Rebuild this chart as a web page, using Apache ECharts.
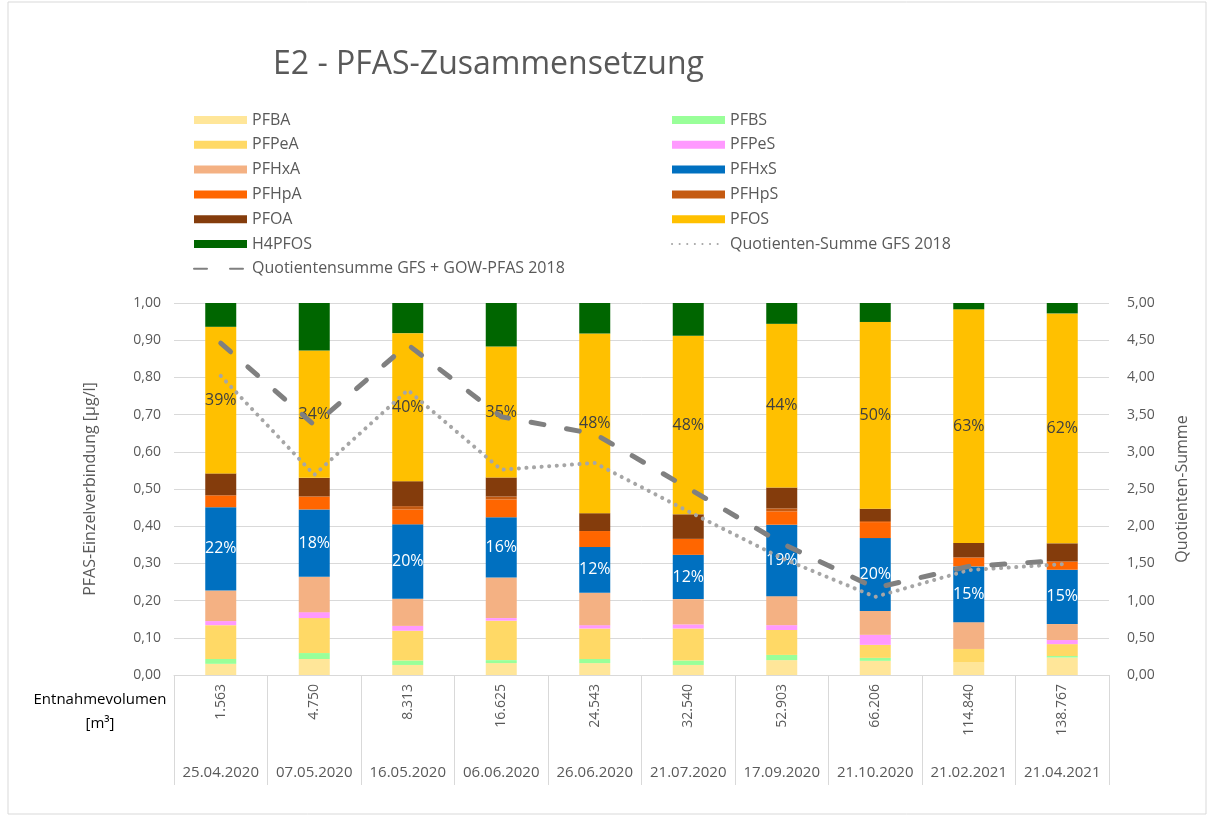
<!DOCTYPE html>
<html>
<head>
<meta charset="utf-8">
<script src="https://cdn.jsdelivr.net/npm/echarts@6/dist/echarts.min.js"></script>
<style>
html,body{margin:0;padding:0;background:#fff;}
#chart{width:1210px;height:821px;}
</style>
</head>
<body>
<div id="chart"></div>
<script>
var volumes = ['1.563','4.750','8.313','16.625','24.543','32.540','52.903','66.206','114.840','138.767'];
var dates = ['25.04.2020','07.05.2020','16.05.2020','06.06.2020','26.06.2020','21.07.2020','17.09.2020','21.10.2020','21.02.2021','21.04.2021'];

// Einzelverbindungen [µg/l], Reihenfolge von unten nach oben
var PFBA   = [0.030,0.043,0.027,0.032,0.032,0.027,0.040,0.038,0.035,0.047];
var PFBS   = [0.013,0.016,0.012,0.008,0.011,0.012,0.014,0.008,0.000,0.004];
var PFPeA  = [0.091,0.094,0.080,0.106,0.082,0.086,0.067,0.035,0.035,0.032];
var PFPeS  = [0.011,0.016,0.013,0.007,0.009,0.011,0.013,0.027,0.000,0.011];
var PFHxA  = [0.082,0.095,0.073,0.109,0.087,0.068,0.078,0.064,0.072,0.043];
var PFHxS  = [0.224,0.181,0.200,0.162,0.123,0.119,0.192,0.196,0.150,0.146];
var PFHpA  = [0.032,0.035,0.040,0.048,0.043,0.043,0.036,0.043,0.024,0.022];
var PFHpS  = [0.000,0.000,0.009,0.008,0.000,0.000,0.008,0.003,0.000,0.000];
var PFOA   = [0.059,0.050,0.067,0.051,0.048,0.066,0.056,0.033,0.039,0.049];
var PFOS   = [0.394,0.342,0.398,0.352,0.483,0.480,0.440,0.502,0.628,0.618];
var H4PFOS = [0.064,0.128,0.082,0.117,0.082,0.088,0.056,0.051,0.017,0.028];

// Quotientensummen
var quotGFS    = [4.02,2.69,3.83,2.76,2.85,2.20,1.57,1.05,1.41,1.49];
var quotGFSGOW = [4.46,3.36,4.44,3.47,3.24,2.51,1.77,1.17,1.46,1.54];

var stoffe = [
	['PFBA',PFBA,'#FFE699'],
	['PFBS',PFBS,'#99FF99'],
	['PFPeA',PFPeA,'#FFD966'],
	['PFPeS',PFPeS,'#FF99FF'],
	['PFHxA',PFHxA,'#F4B183'],
	['PFHxS',PFHxS,'#0070C0'],
	['PFHpA',PFHpA,'#FF6600'],
	['PFHpS',PFHpS,'#C55A11'],
	['PFOA',PFOA,'#843C0C'],
	['PFOS',PFOS,'#FFC000'],
	['H4PFOS',H4PFOS,'#006600']
];

var summe = [];
for(var i=0;i<volumes.length;i++){
	var s = 0;
	for(var k=0;k<stoffe.length;k++){ s += stoffe[k][1][i]; }
	summe.push(s);
}

var font = '"Open Sans", "Noto Sans", sans-serif';
var grau = '#595959';

function komma(v){ return v.toFixed(2).replace('.',','); }

var series = [];
for(var k=0;k<stoffe.length;k++){
	var name = stoffe[k][0];
	var ser = {
		name:name,
		type:'bar',
		stack:'pfas',
		barWidth:31,
		xAxisIndex:0,
		yAxisIndex:0,
		itemStyle:{color:stoffe[k][2]},
		data:stoffe[k][1]
	};
	if(name == 'PFOS' || name == 'PFHxS'){
		ser.label = {
			show:true,
			position:'inside',
			fontFamily:font,
			fontSize:16,
			color:name == 'PFOS' ? '#404040' : '#ffffff',
			formatter:function(p){
				return Math.round(p.value / summe[p.dataIndex] * 100) + '%';
			}
		};
	}
	series.push(ser);
}
series.push({
	name:'Quotienten-Summe GFS 2018',
	type:'line',
	yAxisIndex:1,
	symbol:'none',
	z:5,
	lineStyle:{color:'#A6A6A6',width:4,type:[0.1,7.5],cap:'round'},
	itemStyle:{color:'#A6A6A6'},
	data:quotGFS
});
series.push({
	name:'Quotientensumme GFS + GOW-PFAS 2018',
	type:'line',
	yAxisIndex:1,
	symbol:'none',
	z:6,
	lineStyle:{color:'#808080',width:5,type:[13,23],cap:'round'},
	itemStyle:{color:'#808080'},
	data:quotGFSGOW
});

function legende(left,namen){
	var items = [];
	for(var i=0;i<namen.length;i++){
		if(namen[i].indexOf('Quotient') == 0){
			items.push({name:namen[i],itemStyle:{opacity:0}});
		}else{
			items.push({name:namen[i],icon:'rect'});
		}
	}
	return {
		orient:'vertical',
		left:left,
		top:107,
		itemWidth:53,
		itemHeight:8,
		itemGap:8.8,
		textStyle:{fontFamily:font,fontSize:16,color:grau,lineHeight:14.5},
		data:items
	};
}

var myChart = echarts.init(document.getElementById('chart'));
var option = {
	backgroundColor:'#fff',
	animation:false,
	title:{
		text:'E2 - PFAS-Zusammensetzung',
		left:268,
		top:44,
		textStyle:{fontFamily:font,fontSize:32,fontWeight:'normal',color:grau}
	},
	legend:[
		legende(188,['PFBA','PFPeA','PFHxA','PFHpA','PFOA','H4PFOS','Quotientensumme GFS + GOW-PFAS 2018']),
		legende(666,['PFBS','PFPeS','PFHxS','PFHpS','PFOS','Quotienten-Summe GFS 2018'])
	],
	grid:{left:174,right:101,top:303,bottom:146},
	xAxis:[
		{
			type:'category',
			data:volumes,
			axisLine:{lineStyle:{color:'#D9D9D9'}},
			axisTick:{show:true,length:110,lineStyle:{color:'#D9D9D9'}},
			axisLabel:{rotate:90,margin:9,fontFamily:font,fontSize:14,color:grau,interval:0}
		},
		{
			type:'category',
			position:'bottom',
			offset:82,
			data:dates,
			axisLine:{show:false},
			axisTick:{show:false},
			axisLabel:{margin:8,fontFamily:font,fontSize:15,color:grau,interval:0}
		}
	],
	yAxis:[
		{
			type:'value',
			min:0,max:1,interval:0.1,
			name:'PFAS-Einzelverbindung [µg/l]',
			nameLocation:'middle',
			nameGap:76,
			nameTextStyle:{fontFamily:font,fontSize:16,color:grau},
			axisLine:{show:false},
			axisTick:{show:false},
			splitLine:{lineStyle:{color:'#D9D9D9'}},
			axisLabel:{margin:13,fontFamily:font,fontSize:14,color:grau,formatter:komma}
		},
		{
			type:'value',
			min:0,max:5,interval:0.5,
			name:'Quotienten-Summe',
			nameLocation:'middle',
			nameGap:65,
			nameTextStyle:{fontFamily:font,fontSize:16,color:grau},
			axisLine:{show:false},
			axisTick:{show:false},
			splitLine:{show:false},
			axisLabel:{margin:18,fontFamily:font,fontSize:14,color:grau,formatter:komma}
		}
	],
	graphic:[
		{
			type:'rect',
			shape:{x:8,y:2,width:1198,height:812},
			style:{fill:'none',stroke:'#D9D9D9',lineWidth:1},
			silent:true
		},
		{
			type:'text',
			x:100,y:700,
			style:{text:'Entnahmevolumen',fontFamily:font,fontSize:15,fill:'#000',align:'center',verticalAlign:'middle'}
		},
		{
			type:'text',
			x:100,y:724,
			style:{text:'[m³]',fontFamily:font,fontSize:15,fill:'#000',align:'center',verticalAlign:'middle'}
		}
	],
	series:series
};
myChart.setOption(option);
</script>
</body>
</html>
